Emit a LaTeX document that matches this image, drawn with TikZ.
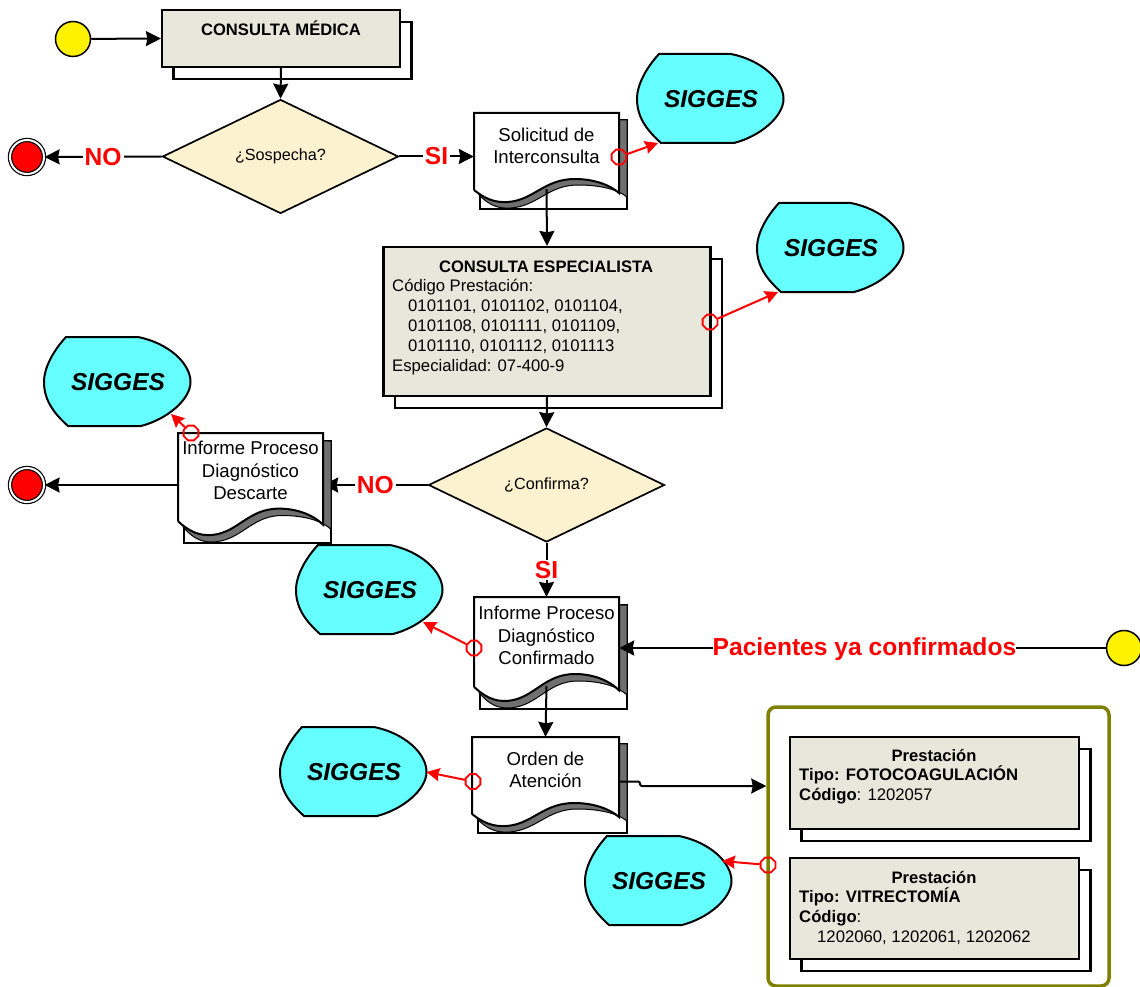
\documentclass[tikz,border=0pt]{standalone}
\usepackage{fontspec}
\setmainfont{Liberation Sans}
\usetikzlibrary{arrows.meta, calc, shapes.geometric, backgrounds}
\definecolor{boxfill}{RGB}{231,232,219}
\definecolor{diamfill}{RGB}{253,242,208}
\definecolor{cloudcyan}{RGB}{102,255,255}
\definecolor{docgray}{RGB}{112,112,112}
\definecolor{groupolive}{RGB}{128,128,0}
\tikzset{
    flow/.style={line width=2pt, black, -{Stealth[length=15pt, width=15pt, inset=1.5pt]}},
    redflow/.style={line width=2pt, red, -{Stealth[length=13pt, width=13pt, inset=1.5pt]}},
    port/.style={regular polygon, regular polygon sides=8, draw=red, line width=1.8pt, minimum size=16pt, inner sep=0pt},
    stackbox/.style={rectangle, draw=black, line width=2.2pt, fill=boxfill, inner sep=0pt},
    stackback/.style={stackbox, fill=white},
    decision/.style={diamond, draw=black, line width=1.7pt, fill=diamfill, aspect=2.07, inner sep=0pt, font=\fontsize{16.2}{19}\selectfont},
    startdot/.style={circle, draw=black, line width=1.5pt, fill=yellow, minimum size=35pt, inner sep=0pt},
    enddot/.style={circle, draw=black, line width=1.2pt, fill=red, double=white, double distance=2pt, minimum size=34pt, inner sep=0pt},
    redtag/.style={fill=white, text=red, inner xsep=2pt, inner ysep=1pt, font=\fontsize{24.6}{28}\selectfont\bfseries},
    boxtitle/.style={font=\fontsize{16.6}{20}\selectfont\bfseries},
    boxbody/.style={anchor=north west, inner sep=0pt, align=left, font=\fontsize{16.7}{20}\selectfont},
    doctext/.style={align=center, inner sep=0pt, font=\fontsize{18.6}{22.5}\selectfont},
    cloudtext/.style={font=\fontsize{24.5}{28}\selectfont\bfseries\itshape}
}
% stacked box: name, centre x, centre y, width, height
\newcommand{\stacknode}[5]{%
    \node[stackback, minimum width=#4, minimum height=#5] (#1back) at (#2+11.5,#3+12) {};
    \node[stackbox, minimum width=#4, minimum height=#5] (#1) at (#2,#3) {};
}
% document sheet: name, left, top, full height, front width, text
\newcommand{\docnode}[6]{%
    \begin{scope}[shift={(#2,#3)}, xscale=#5/145, yscale=#4/96]
        \draw[line width=2pt, fill=white] (6,7) rectangle (153,96);
        \draw[line width=1pt, fill=docgray] (8,6) -- (153,7) -- (153,84) .. controls (143,76) and (125,72) .. (104,72)
            .. controls (74,72) and (64,93) .. (37,95) .. controls (24,96) and (15,92) .. (5,82) -- cycle;
        \draw[line width=2pt, fill=white] (0,77) -- (0,0) -- (145,0) -- (145,80) .. controls (136,72) and (120,66) .. (101,66)
            .. controls (70,66) and (60,87) .. (34,89) .. controls (20,90) and (10,85) .. (0,77);
        \node[minimum width=#5, minimum height={#4*0.79}, inner sep=0pt] (#1) at (72.5,38) {};
        \node[doctext] (#1text) at ([yshift=5pt]#1.center) {#6};
    \end{scope}
}
% system cloud: name, left, top
\newcommand{\cloudnode}[3]{%
    \begin{scope}[shift={(#2,#3)}]
        \draw[line width=2pt, fill=cloudcyan] (22,0) -- (94,0) .. controls (124,6) and (146.5,26) .. (146.5,45)
            .. controls (146.5,62) and (124,82) .. (97,89) -- (24,89) .. controls (12,78) and (0,65) .. (0,45)
            .. controls (0,30) and (10,13) .. (22,0) -- cycle;
        \node[cloudtext] (#1) at (74,45) {SIGGES};
        \coordinate (#1bl) at (21,89);
        \coordinate (#1lr) at (127,77);
        \coordinate (#1ur) at (137,25);
        \coordinate (#1e) at (146.5,45);
    \end{scope}
}
\begin{document}
\begin{tikzpicture}[x=1pt, y=-1pt]
    \useasboundingbox (0,0) rectangle (1140,987);

    % Group frame
    \node[draw=groupolive, line width=3.5pt, rounded corners=8pt, minimum width=341pt, minimum height=279pt, inner sep=0pt] (group) at (938.5,846.5) {};

    % Upper row
    \node[startdot] (start) at (73,39) {};
    \stacknode{medica}{281}{38.5}{238}{57}
    \node[boxtitle] (medicatext) at (281,28) {CONSULTA MÉDICA};
    \node[decision, minimum width=236pt, minimum height=114pt] (sospecha) at (280.5,156.5) {¿Sospecha?};
    \node[enddot] (endone) at (27,157) {};
    \docnode{solicitud}{474}{113}{96}{145}{Solicitud de\\Interconsulta}
    \cloudnode{sigone}{637}{54}

    % Specialist
    \stacknode{especialista}{547}{321.5}{327}{149}
    \node[boxtitle] (especialistatext) at (546,267) {CONSULTA ESPECIALISTA};
    \node[boxbody] (especialistabody) at (392,279.5) {Código Prestación:\\
        \hspace*{16pt}0101101, 0101102, 0101104,\\
        \hspace*{16pt}0101108, 0101111, 0101109,\\
        \hspace*{16pt}0101110, 0101112, 0101113\\
        Especialidad: 07-400-9};
    \cloudnode{sigtwo}{757}{203}

    % Confirmation
    \node[decision, minimum width=236pt, minimum height=114pt] (confirma) at (546.5,485) {¿Confirma?};
    \docnode{descarte}{178}{433}{110}{145}{Informe Proceso\\Diagnóstico\\Descarte}
    \node[enddot] (endtwo) at (27,485) {};
    \cloudnode{sigthree}{44}{337}
    \docnode{confirmado}{474}{597}{112}{145}{Informe Proceso\\Diagnóstico\\Confirmado}
    \cloudnode{sigfour}{296}{545}
    \node[startdot] (startwo) at (1124,648) {};

    % Order
    \docnode{orden}{472}{737}{96}{147}{Orden de\\Atención}
    \cloudnode{sigfive}{280}{727}
    \cloudnode{sigsix}{585}{836}

    % Benefits
    \stacknode{fotoco}{934.5}{783}{289}{92}
    \node[boxtitle] (fotocotitle) at (934,755) {Prestación};
    \node[boxbody] (fotocobody) at (799,765) {\textbf{Tipo: FOTOCOAGULACIÓN}\\\textbf{Código}: 1202057};
    \stacknode{vitrec}{934.5}{908.5}{289}{101}
    \node[boxtitle] (vitrectitle) at (934,877) {Prestación};
    \node[boxbody] (vitrecbody) at (799,887) {\textbf{Tipo: VITRECTOMÍA}\\\textbf{Código}:\\\hspace*{18pt}1202060, 1202061, 1202062};

    % SIGGES ports
    \node[port] (portone) at (619,157) {};
    \node[port] (porttwo) at (710,322) {};
    \node[port] (portthree) at (191,433) {};
    \node[port] (portfour) at (474,648) {};
    \node[port] (portfive) at (473,781.5) {};
    \node[port] (portsix) at (768,865) {};

    % Flow
    \draw[flow] (start) -- (medica.west);
    \draw[flow] (medica.south) -- (sospecha.north);
    \draw[flow] (sospecha.west) -- node[redtag] (tagno) {NO} (endone);
    \draw[flow] (sospecha.east) -- node[redtag] (tagsi) {SI} (solicitud.west |- sospecha.east);
    \draw[flow] (solicitud.south) -- (especialista.north);
    \draw[flow] (especialista.south) -- (confirma.north);
    \begin{pgfonlayer}{background}
        \draw[flow] (confirma.west) -- node[redtag] (tagnotwo) {NO} (descarte.east |- confirma.west);
    \end{pgfonlayer}
    \draw[flow] (descarte.west |- endtwo) -- (endtwo);
    \draw[flow] (confirma.south) -- node[redtag] (tagsitwo) {SI} (confirmado.north);
    \draw[flow] (startwo) -- node[redtag, inner xsep=0pt, xshift=2pt, yshift=-1.5pt] (tagya) {Pacientes ya confirmados} (confirmado.east |- startwo);
    \draw[flow] (confirmado.south) -- (orden.north);
    \coordinate (jog) at (640,786);
    \draw[flow, rounded corners=2pt] (orden.east |- portfive) -| (jog) -- (group.west |- jog);

    % SIGGES links
    \draw[redflow] (portone) -- (sigonebl);
    \draw[redflow] (porttwo) -- (sigtwobl);
    \draw[redflow] (portthree) -- (sigthreelr);
    \draw[redflow] (portfour) -- (sigfourlr);
    \draw[redflow] (portfive) -- (sigfivee);
    \draw[redflow] (portsix) -- (sigsixur);
\end{tikzpicture}
\end{document}
